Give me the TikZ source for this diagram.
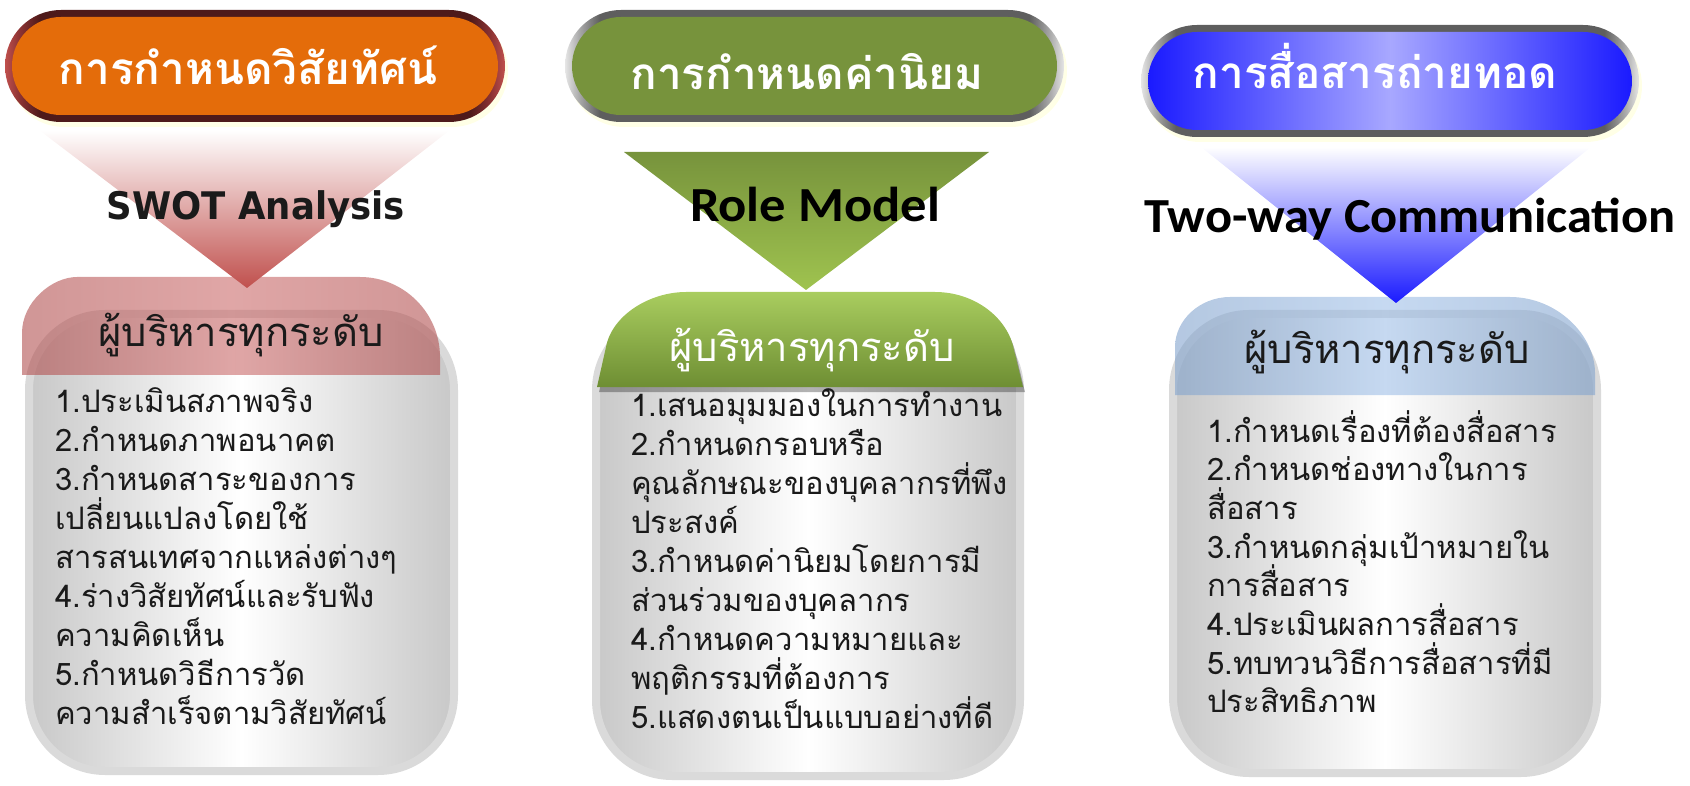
\documentclass[tikz,border=0pt]{standalone}
\usepackage{fontspec}
\usepackage{graphicx}
\newfontfamily\thaifont[Script=Thai]{Loma}
\newfontfamily\dvsans{DejaVu Sans}
\newfontfamily\carlito{Carlito}
\definecolor{orangeF}{HTML}{E46C0A}
\definecolor{brownD}{HTML}{4E1A1A}
\definecolor{brownM}{HTML}{8A3232}
\definecolor{redB}{HTML}{C0504D}
\definecolor{greenF}{HTML}{77933C}
\definecolor{greenL}{HTML}{9FC34F}
\definecolor{greenT}{HTML}{A9CD5F}
\definecolor{greenB}{HTML}{6E8E33}
\definecolor{blueD}{HTML}{1A1AFF}
\definecolor{blueL}{HTML}{A8A8FF}
\definecolor{grayD}{HTML}{5E5E5E}
\definecolor{grayM}{HTML}{A6A6A6}
\definecolor{grayL}{HTML}{E6E6E6}
\definecolor{boxedge}{HTML}{DADADA}
\definecolor{boxside}{HTML}{C8C8C8}
\definecolor{glow}{HTML}{FFFFE6}
\definecolor{pinkM}{HTML}{CB6B6B}
\definecolor{pinkE}{HTML}{B15050}
\definecolor{blueHM}{HTML}{A0C0E8}
\definecolor{blueHE}{HTML}{82A3CD}
\definecolor{txt}{HTML}{1A1A1A}
\pgfdeclarehorizontalshading{pillgray}{100bp}{color(0bp)=(grayL); color(25bp)=(grayL); color(26.5bp)=(grayM); color(28.5bp)=(grayD); color(71.5bp)=(grayD); color(73.5bp)=(grayM); color(75bp)=(grayL); color(100bp)=(grayL)}
\pgfdeclarehorizontalshading{pillorange}{100bp}{color(0bp)=(redB); color(25bp)=(redB); color(26.5bp)=(brownM); color(28.5bp)=(brownD); color(71.5bp)=(brownD); color(73.5bp)=(brownM); color(75bp)=(redB); color(100bp)=(redB)}
\begin{document}
\begin{tikzpicture}[x=1pt,y=-1pt,
  bodytext/.style={font=\thaifont\fontsize{31}{38}\selectfont, text=txt, anchor=base west, inner sep=0pt},
  headtext/.style={font=\thaifont\fontsize{40}{48}\selectfont, anchor=base, inner sep=0pt},
  titletext/.style={font=\thaifont\bfseries\fontsize{44}{52}\selectfont, text=white, anchor=base, inner sep=0pt},
  graybox/.style={draw=boxedge, line width=8pt, left color=boxside, right color=boxside, middle color=white, rounded corners=76pt},
  glowpill/.style={fill=glow, rounded corners=56pt},
]
\useasboundingbox (0,0) rectangle (1690,786);

% ---------- gray boxes ----------
\path[graybox] (29,314) rectangle (454,771);
\path[graybox] (596,314) rectangle (1020,776);
\path[graybox] (1173,314) rectangle (1597,773);

% ---------- headers ----------
\shade[left color=pinkE, right color=pinkE, middle color=pinkM, fill opacity=0.6]
  (22,375) -- (22,333) .. controls (22,302) and (52,277) .. (77,277) -- (360,277)
  .. controls (404,277) and (440,313) .. (440,357) -- (440,375) -- cycle;
\fill[black, opacity=0.3] (599,392) -- (608,352) .. controls (614,320) and (652,297) .. (688,297) -- (937,297)
  .. controls (977,297) and (1010,323) .. (1016,355) -- (1025,392) -- cycle;
\shade[top color=greenT, bottom color=greenB]
  (597,387) -- (606,347) .. controls (612,315) and (650,292) .. (686,292) -- (935,292)
  .. controls (975,292) and (1008,318) .. (1014,350) -- (1023,387) -- cycle;
\shade[left color=blueHE, right color=blueHE, middle color=blueHM, fill opacity=0.6]
  (1175,395) -- (1175,347) .. controls (1175,320) and (1200,297) .. (1230,297) -- (1510,297)
  .. controls (1557,297) and (1595,335) .. (1595,373) -- (1595,395) -- cycle;

% ---------- triangles ----------
\shade[top color=white, middle color=redB!35, bottom color=redB] (39,130) -- (450,130) -- (247,288) -- cycle;
\shade[top color=greenF, bottom color=greenL] (624,152) -- (989,152) -- (806,290) -- cycle;
\shade[top color=white, middle color=blueD!30, bottom color=blueD] (1201,147) -- (1591,147) -- (1396,303) -- cycle;

% ---------- pills ----------
\path[glowpill] (8,15) rectangle (508,127);
\shade[shading=pillorange, rounded corners=56pt] (5,10) rectangle (505,122);
\fill[orangeF, rounded corners=49pt] (12,17) rectangle (498,115);

\path[glowpill] (568,15) rectangle (1067,127);
\shade[shading=pillgray, rounded corners=56pt] (565,10) rectangle (1064,122);
\fill[greenF, rounded corners=49pt] (572,17) rectangle (1057,115);

\path[glowpill] (1144,30) rectangle (1642,142);
\shade[shading=pillgray, rounded corners=56pt] (1141,25) rectangle (1639,137);
\shade[left color=blueD, right color=blueD, middle color=blueL, rounded corners=49pt] (1148,32) rectangle (1632,130);

% ---------- titles ----------
\node[titletext] (t1) at (248,85) {การกำหนดวิสัยทัศน์};
\node[titletext] (t2) at (807,90) {การกำหนดค่านิยม};
\node[titletext] (t3) at (1375,89) {การสื่อสารถ่ายทอด};

% ---------- english labels ----------
\node[anchor=base, inner sep=0pt, text=txt] (swot) at (256,220)
  {\resizebox{298pt}{\height}{\dvsans\bfseries\fontsize{38}{40}\selectfont SWOT Analysis}};
\node[anchor=base, inner sep=0pt, text=black] (role) at (815,222)
  {\resizebox{250pt}{\height}{\carlito\bfseries\fontsize{49}{50}\selectfont Role Model}};
\node[anchor=base, inner sep=0pt, text=black] (two) at (1410,233)
  {\resizebox{531pt}{\height}{\carlito\bfseries\fontsize{49}{50}\selectfont Two-way Communication}};

% ---------- header texts ----------
\node[headtext, text=txt] (h1) at (241,347) {ผู้บริหารทุกระดับ};
\node[headtext, text=white] (h2) at (812,362) {ผู้บริหารทุกระดับ};
\node[headtext, text=txt] (h3) at (1387,363) {ผู้บริหารทุกระดับ};

% ---------- body texts ----------
\foreach \t [count=\i] in {1.ประเมินสภาพจริง, 2.กำหนดภาพอนาคต, 3.กำหนดสาระของการ, เปลี่ยนแปลงโดยใช้, สารสนเทศจากแหล่งต่างๆ, 4.ร่างวิสัยทัศน์และรับฟัง, ความคิดเห็น, 5.กำหนดวิธีการวัด, ความสำเร็จตามวิสัยทัศน์}
  \node[bodytext] (a\i) at (55,{412+39*(\i-1)}) {\t};
\foreach \t [count=\i] in {1.เสนอมุมมองในการทำงาน, 2.กำหนดกรอบหรือ, คุณลักษณะของบุคลากรที่พึง, ประสงค์, 3.กำหนดค่านิยมโดยการมี, ส่วนร่วมของบุคลากร, 4.กำหนดความหมายและ, พฤติกรรมที่ต้องการ, 5.แสดงตนเป็นแบบอย่างที่ดี}
  \node[bodytext] (b\i) at (631,{417+38.9*(\i-1)}) {\t};
\foreach \t [count=\i] in {1.กำหนดเรื่องที่ต้องสื่อสาร, 2.กำหนดช่องทางในการ, สื่อสาร, 3.กำหนดกลุ่มเป้าหมายใน, การสื่อสาร, 4.ประเมินผลการสื่อสาร, 5.ทบทวนวิธีการสื่อสารที่มี, ประสิทธิภาพ}
  \node[bodytext] (c\i) at (1207,{442+38.7*(\i-1)}) {\t};
\end{tikzpicture}
\end{document}
